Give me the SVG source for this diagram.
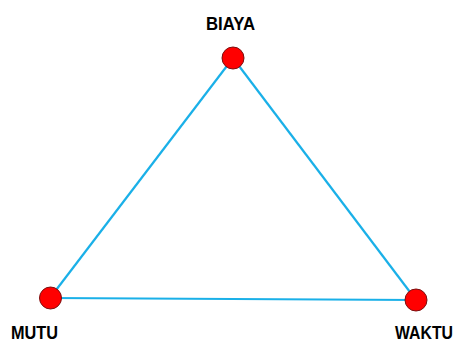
<svg xmlns="http://www.w3.org/2000/svg" width="457" height="343" viewBox="0 0 457 343">
<style>
.edge{stroke:#1AB0E8;stroke-width:2.2;fill:none}
.dot{fill:#FF0000;stroke:#7A1010;stroke-width:1}
.lbl{font-family:"Liberation Sans",Arial,sans-serif;font-weight:bold;font-size:19px;fill:#000;text-anchor:middle}
</style>
<rect width="457" height="343" fill="#fff"/>
<g id="connectors">
<line class="edge" x1="233" y1="58" x2="50" y2="298"/>
<line class="edge" x1="233" y1="58" x2="416" y2="300"/>
<line class="edge" x1="50" y1="298" x2="416" y2="300"/>
</g>
<g id="biaya">
<circle class="dot" cx="233" cy="58" r="11"/>
<text class="lbl" x="230.5" y="29.5" textLength="49" lengthAdjust="spacingAndGlyphs">BIAYA</text>
</g>
<g id="mutu">
<circle class="dot" cx="50.5" cy="298" r="11"/>
<text class="lbl" x="34.5" y="339" textLength="47" lengthAdjust="spacingAndGlyphs">MUTU</text>
</g>
<g id="waktu">
<circle class="dot" cx="416" cy="300" r="11"/>
<text class="lbl" transform="translate(424,339) scale(1,1.12)" x="0" y="0" style="font-size:17px" textLength="58" lengthAdjust="spacingAndGlyphs">WAKTU</text>
</g>
</svg>
